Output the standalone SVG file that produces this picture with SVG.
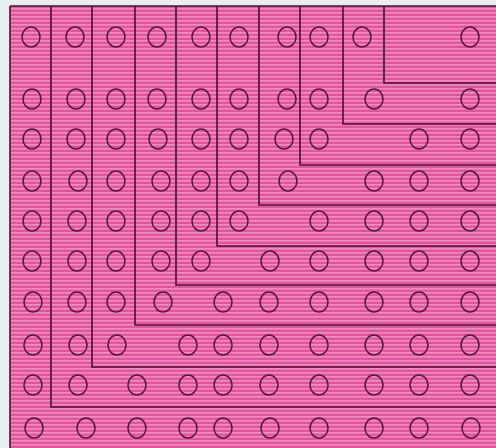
<svg xmlns="http://www.w3.org/2000/svg" width="496" height="448" viewBox="0 0 496 448">
<style>
.ln{fill:none;stroke:#4a1030;stroke-width:1.6}
.c{fill:none;stroke:#5a1838;stroke-width:1.6}
</style>
<defs>
<pattern id="stripes" patternUnits="userSpaceOnUse" width="8" height="4">
<rect width="8" height="4" fill="#e2549c"/>
<rect y="0" width="8" height="1.6" fill="#f08dc2"/>
</pattern>
<ellipse id="o" rx="9" ry="10"/>
</defs>
<rect width="496" height="448" fill="#e6eef0"/>
<rect x="10" y="6" width="486" height="442" fill="url(#stripes)"/>
<g id="lines">
<path class="ln" d="M10,6 H496 M10,6 V448"/>
<path class="ln" d="M51,6 V407 H496"/>
<path class="ln" d="M92,6 V367 H496"/>
<path class="ln" d="M135,6 V325 H496"/>
<path class="ln" d="M176,6 V285 H496"/>
<path class="ln" d="M217,6 V246 H496"/>
<path class="ln" d="M259,6 V205 H496"/>
<path class="ln" d="M300,6 V165 H496"/>
<path class="ln" d="M343,6 V124 H496"/>
<path class="ln" d="M384,6 V83 H496"/>
</g>
<g id="circles" class="c">
<g transform="translate(0,37)"><use href="#o" x="31"/><use href="#o" x="75"/><use href="#o" x="116"/><use href="#o" x="157"/><use href="#o" x="201"/><use href="#o" x="239"/><use href="#o" x="287"/><use href="#o" x="319"/><use href="#o" x="362"/><use href="#o" x="470"/></g>
<g transform="translate(0,99)"><use href="#o" x="32"/><use href="#o" x="76"/><use href="#o" x="116"/><use href="#o" x="157"/><use href="#o" x="201"/><use href="#o" x="239"/><use href="#o" x="287"/><use href="#o" x="319"/><use href="#o" x="374"/><use href="#o" x="470"/></g>
<g transform="translate(0,139)"><use href="#o" x="32"/><use href="#o" x="76"/><use href="#o" x="116"/><use href="#o" x="158"/><use href="#o" x="201"/><use href="#o" x="239"/><use href="#o" x="284"/><use href="#o" x="319"/><use href="#o" x="419"/><use href="#o" x="470"/></g>
<g transform="translate(0,181)"><use href="#o" x="32"/><use href="#o" x="78"/><use href="#o" x="116"/><use href="#o" x="161"/><use href="#o" x="201"/><use href="#o" x="239"/><use href="#o" x="288"/><use href="#o" x="374"/><use href="#o" x="419"/><use href="#o" x="470"/></g>
<g transform="translate(0,221)"><use href="#o" x="32"/><use href="#o" x="77"/><use href="#o" x="116"/><use href="#o" x="161"/><use href="#o" x="201"/><use href="#o" x="239"/><use href="#o" x="319"/><use href="#o" x="374"/><use href="#o" x="419"/><use href="#o" x="470"/></g>
<g transform="translate(0,261)"><use href="#o" x="32"/><use href="#o" x="77"/><use href="#o" x="116"/><use href="#o" x="161"/><use href="#o" x="201"/><use href="#o" x="270"/><use href="#o" x="319"/><use href="#o" x="374"/><use href="#o" x="419"/><use href="#o" x="470"/></g>
<g transform="translate(0,302)"><use href="#o" x="33"/><use href="#o" x="77"/><use href="#o" x="116"/><use href="#o" x="163"/><use href="#o" x="223"/><use href="#o" x="269"/><use href="#o" x="319"/><use href="#o" x="374"/><use href="#o" x="419"/><use href="#o" x="470"/></g>
<g transform="translate(0,345)"><use href="#o" x="33"/><use href="#o" x="78"/><use href="#o" x="117"/><use href="#o" x="188"/><use href="#o" x="223"/><use href="#o" x="269"/><use href="#o" x="319"/><use href="#o" x="374"/><use href="#o" x="419"/><use href="#o" x="470"/></g>
<g transform="translate(0,385)"><use href="#o" x="33"/><use href="#o" x="78"/><use href="#o" x="137"/><use href="#o" x="188"/><use href="#o" x="223"/><use href="#o" x="269"/><use href="#o" x="319"/><use href="#o" x="374"/><use href="#o" x="419"/><use href="#o" x="470"/></g>
<g transform="translate(0,428)"><use href="#o" x="34"/><use href="#o" x="86"/><use href="#o" x="137"/><use href="#o" x="188"/><use href="#o" x="223"/><use href="#o" x="270"/><use href="#o" x="319"/><use href="#o" x="374"/><use href="#o" x="419"/><use href="#o" x="471"/></g>
</g>
</svg>
